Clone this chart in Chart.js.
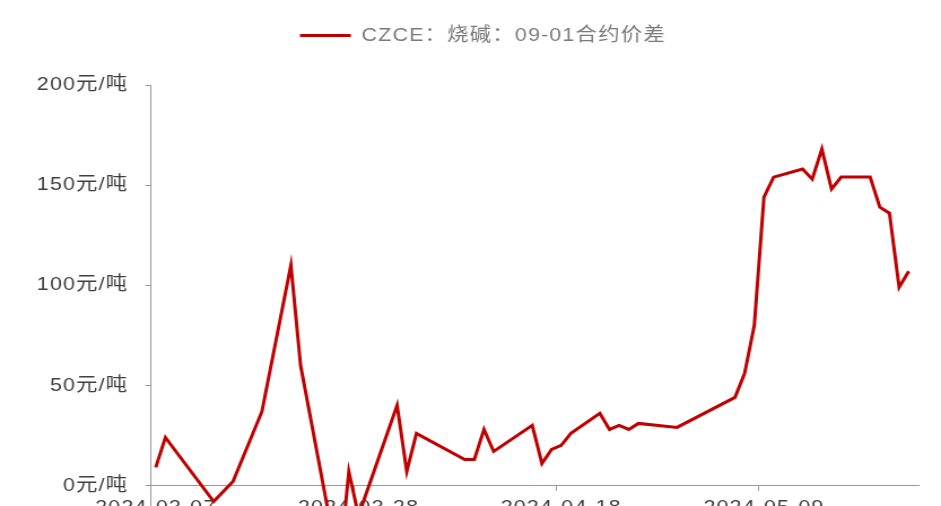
<!DOCTYPE html>
<html>
<head>
<meta charset="utf-8">
<script src="https://cdn.jsdelivr.net/npm/chart.js@4/dist/chart.umd.min.js"></script>
<style>
  html, body { margin: 0; padding: 0; background: #fff; overflow: hidden; }
</style>
</head>
<body>
<!-- drawn 833 wide, shown 941 wide -->
<canvas id="grafico" width="833" height="612" style="width:941px;height:612px"></canvas>
<script>
const legenda = 'CZCE：烧碱：09-01合约价差'
const inicio = '2024-03-07'

const datas = ['2024-03-07', '2024-03-08', '2024-03-13', '2024-03-15', '2024-03-18', '2024-03-21',
  '2024-03-22', '2024-03-26', '2024-03-27', '2024-03-28', '2024-04-01', '2024-04-02', '2024-04-03',
  '2024-04-08', '2024-04-09', '2024-04-10', '2024-04-11', '2024-04-15', '2024-04-16', '2024-04-17',
  '2024-04-18', '2024-04-19', '2024-04-22', '2024-04-23', '2024-04-24', '2024-04-25', '2024-04-26',
  '2024-04-30', '2024-05-06', '2024-05-07', '2024-05-08', '2024-05-09', '2024-05-10', '2024-05-13',
  '2024-05-14', '2024-05-15', '2024-05-16', '2024-05-17', '2024-05-20', '2024-05-21', '2024-05-22',
  '2024-05-23', '2024-05-24']
const spread = [9, 24, -8, 2, 37, 110,
  60, -42, 7, -15, 40, 7, 26,
  13, 13, 28, 17, 30, 11, 18,
  20, 26, 36, 28, 30, 28, 31,
  29, 44, 56, 80, 144, 154, 158,
  153, 168, 148, 154, 154, 139, 136,
  99, 107]

const rotulosX = ['2024-03-07', '2024-03-28', '2024-04-18', '2024-05-09']
const marcasY = [-50, 0, 50, 100, 150, 200]

const fonte = "'Liberation Sans', 'Noto Sans CJK SC', sans-serif"
const espacoLegenda = 30
const desvioLegenda = 6

function dia(d) {
  return (Date.parse(d) - Date.parse(inicio)) / 86400000
}

function dataDoDia(v) {
  return new Date(Date.parse(inicio) + v * 86400000).toISOString().slice(0, 10)
}

// each value sits in the middle of its day slot, ticks mark the day start
var pontos = datas.map((d, i) => ({ x: dia(d) + 0.5, y: spread[i] }))

// wider letter spacing, room under the legend (its box is only as tall as its text)
// and the legend nudged a little to the right
const ajustes = {
  id: 'ajustes',
  beforeLayout(chart) {
    chart.ctx.letterSpacing = '1px'
    let leg = chart.legend
    if (!leg || leg.folga) return
    let fitOriginal = leg.fit
    leg.fit = function () {
      fitOriginal.call(this)
      this.height += espacoLegenda
    }
    leg.folga = true
  },
  afterLayout(chart) {
    chart.legend.left += desvioLegenda
    chart.legend.right += desvioLegenda
  },
  beforeDraw(chart) {
    chart.ctx.letterSpacing = '1px'
  }
}

Chart.defaults.font.family = fonte

new Chart(document.getElementById('grafico'), {
  type: 'line',
  data: {
    datasets: [{
      label: legenda,
      data: pontos,
      borderColor: '#C00000',
      backgroundColor: '#C00000',
      borderWidth: 3,
      pointRadius: 0,
      tension: 0
    }]
  },
  options: {
    responsive: false,
    devicePixelRatio: 1,
    animation: false,
    layout: { padding: { top: 16, left: 30, right: 20, bottom: 15 } },
    plugins: {
      legend: {
        labels: {
          usePointStyle: true,
          pointStyle: 'line',
          pointStyleWidth: 45,
          color: '#7a7a7a',
          font: { size: 19 },
          padding: 10
        }
      },
      tooltip: { enabled: false }
    },
    scales: {
      x: {
        type: 'linear',
        position: { y: 0 },
        min: 0,
        max: 79.5,
        afterBuildTicks: (s) => { s.ticks = rotulosX.map(d => ({ value: dia(d) })) },
        grid: { drawOnChartArea: false, tickLength: 5, color: '#999' },
        border: { color: '#999', width: 1 },
        ticks: {
          callback: (v) => dataDoDia(v),
          color: '#404040',
          font: { size: 19 },
          padding: 6,
          labelOffset: 4.3,
          maxRotation: 0,
          autoSkip: false
        }
      },
      y: {
        min: -50,
        max: 200,
        afterBuildTicks: (s) => { s.ticks = marcasY.map(v => ({ value: v })) },
        afterFit: (s) => { s.width = 103.6 },
        grid: { drawOnChartArea: false, tickLength: 5, color: '#999' },
        border: { color: '#999', width: 1 },
        ticks: {
          callback: (v) => v + '元/吨',
          color: '#404040',
          font: { size: 19 },
          padding: 15
        }
      }
    }
  },
  plugins: [ajustes]
})
</script>
</body>
</html>
